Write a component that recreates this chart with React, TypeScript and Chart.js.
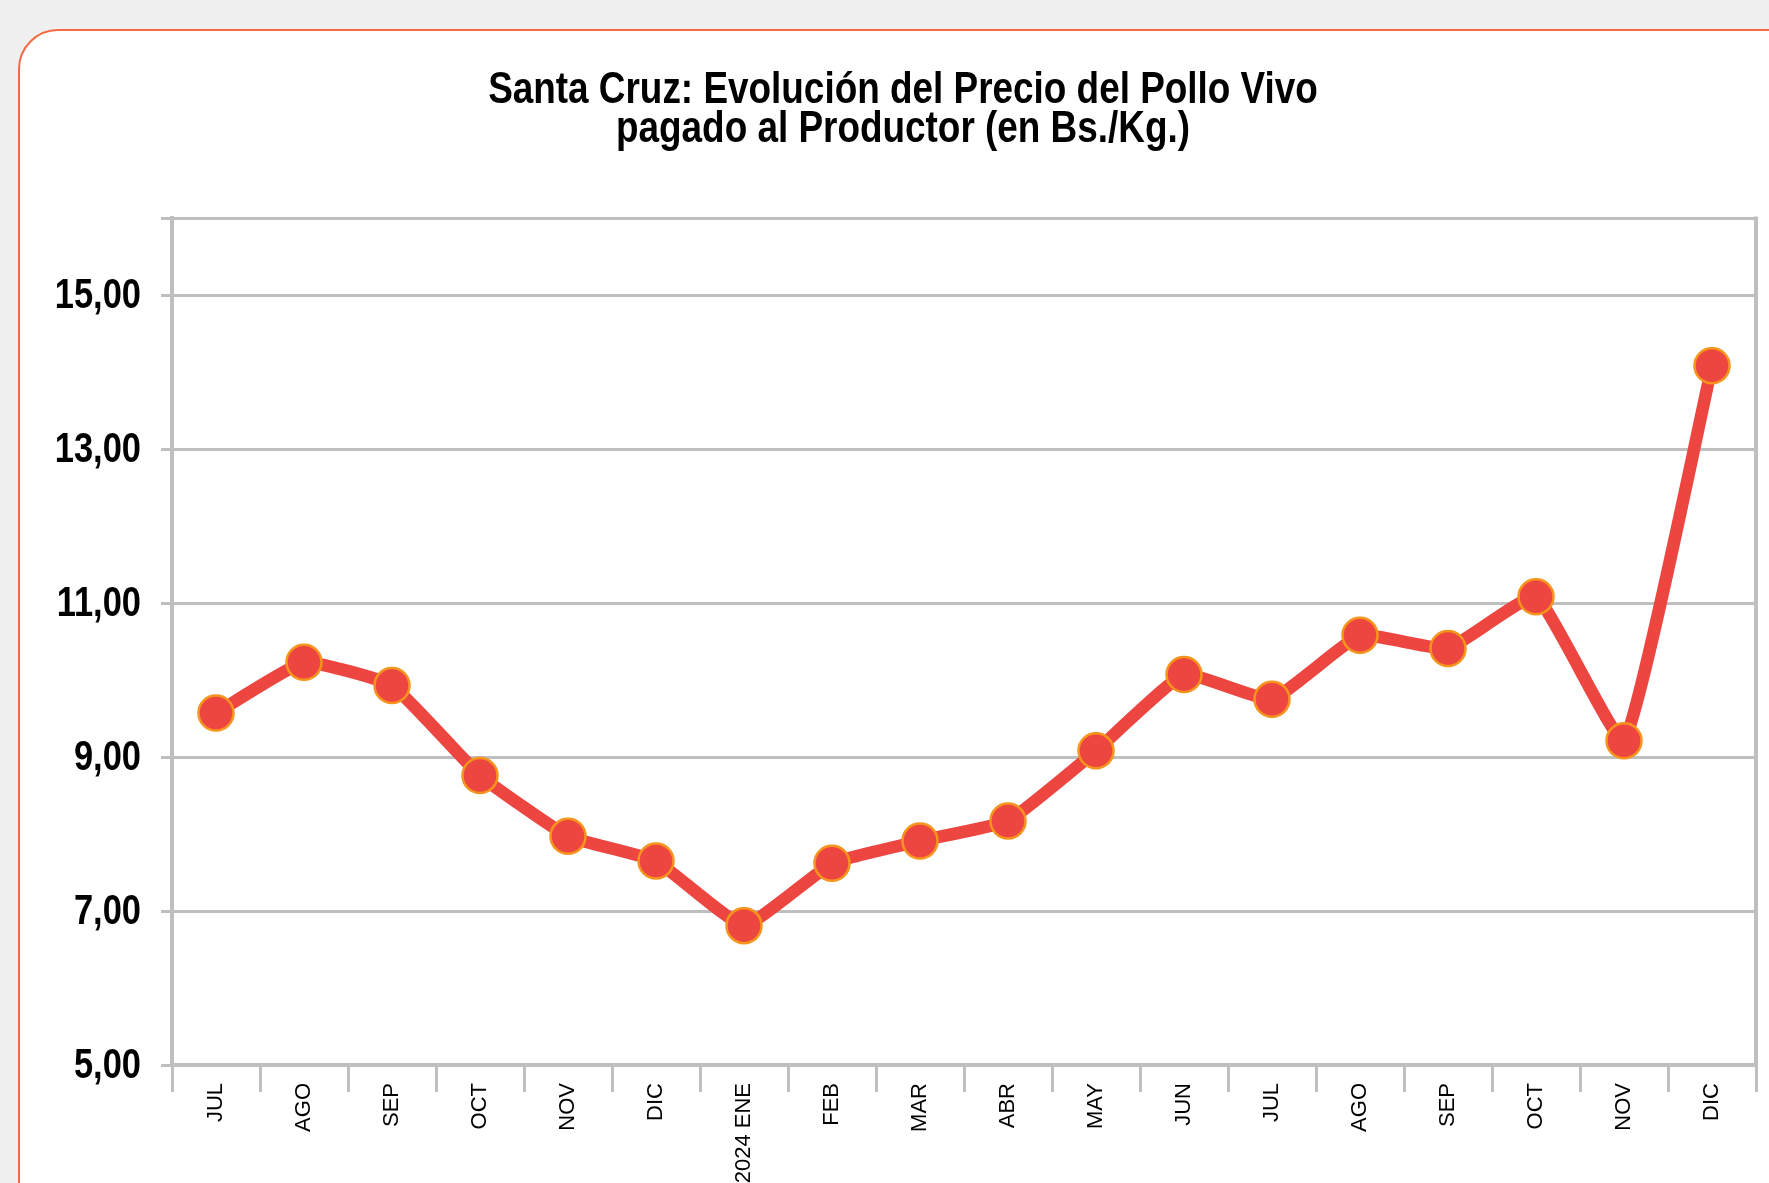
import React, { useEffect, useRef } from 'react';
import { Chart, registerables } from 'chart.js';

Chart.register(...registerables);

const categories = ['JUL', 'AGO', 'SEP', 'OCT', 'NOV', 'DIC', '2024 ENE', 'FEB', 'MAR', 'ABR', 'MAY', 'JUN', 'JUL', 'AGO', 'SEP', 'OCT', 'NOV', 'DIC'];
const prices = [9.57, 10.23, 9.93, 8.76, 7.97, 7.65, 6.81, 7.62, 7.91, 8.17, 9.08, 10.07, 9.75, 10.58, 10.41, 11.08, 9.21, 14.08];
const yMin = 5;
const yMax = 16;
const yTickValues = [5, 7, 9, 11, 13, 15, 16];
const titleLines = ['Santa Cruz: Evolución del Precio del Pollo Vivo', 'pagado al Productor (en Bs./Kg.)'];

const BOLD = "bold 45px 'Liberation Sans', Arial, sans-serif";
const YFONT = "bold 42px 'Liberation Sans', Arial, sans-serif";
const REGULAR = "'Liberation Sans', Arial, sans-serif";
const NARROW_SCALE = 0.82;
const W = 1769;
const H = 1183;
const CANVAS_W = 1776;

const fmt = (v: number) => v.toFixed(2).replace('.', ',');

const narrowText = {
  id: 'narrowText',
  beforeDatasetsDraw(chart: any) {
    const { ctx, chartArea } = chart;
    ctx.save();
    ctx.strokeStyle = '#bfbfbf';
    ctx.lineWidth = 4;
    ctx.beginPath();
    ctx.moveTo(chartArea.right, chartArea.top - 1.5);
    ctx.lineTo(chartArea.right, chartArea.bottom);
    ctx.stroke();
    ctx.restore();
  },
  afterDraw(chart: any) {
    const { ctx } = chart;
    const y = chart.scales.y;
    ctx.save();
    ctx.fillStyle = '#000';
    ctx.font = BOLD;
    ctx.textAlign = 'center';
    ctx.textBaseline = 'alphabetic';
    ctx.save();
    ctx.scale(NARROW_SCALE, 1);
    const cx = 903 / NARROW_SCALE;
    ctx.fillText(titleLines[0], cx, 103);
    ctx.fillText(titleLines[1], cx, 142);
    ctx.restore();
    ctx.font = YFONT;
    ctx.textAlign = 'right';
    ctx.textBaseline = 'middle';
    ctx.save();
    ctx.scale(NARROW_SCALE, 1);
    for (const t of y.ticks) {
      if (t.value === yMax) continue;
      const py = y.getPixelForValue(t.value);
      ctx.fillText(fmt(t.value), 141 / NARROW_SCALE, py + 1);
    }
    ctx.restore();
    ctx.restore();
  },
};

export default function App() {
  const ref = useRef<HTMLCanvasElement>(null);

  useEffect(() => {
    document.body.style.margin = '0';
    const canvas = ref.current!;
    const chart = new Chart(canvas, {
      type: 'line',
      data: {
        labels: categories,
        datasets: [
          {
            data: prices,
            borderColor: '#ed4540',
            borderWidth: 12.5,
            tension: 0.12,
            pointRadius: 17.5,
            pointBackgroundColor: '#ed4540',
            pointBorderColor: '#f7941d',
            pointBorderWidth: 2.5,
            fill: false,
          },
        ],
      },
      options: {
        responsive: false,
        animation: false,
        devicePixelRatio: 1,
        layout: { padding: { left: 52, right: 13, top: 218, bottom: 0 } },
        plugins: {
          legend: { display: false },
          tooltip: { enabled: false },
          title: { display: false },
        },
        scales: {
          x: {
            type: 'category',
            offset: true,
            grid: {
              display: true,
              offset: true,
              drawOnChartArea: false,
              drawTicks: true,
              tickLength: 27,
              color: '#bfbfbf',
              lineWidth: 3,
            },
            border: { display: true, color: '#bfbfbf', width: 4 },
            ticks: {
              minRotation: 90,
              maxRotation: 90,
              autoSkip: false,
              padding: -9,
              color: '#000',
              font: { family: REGULAR, size: 22 },
            },
            afterFit: (s: any) => {
              s.height = H - 1065;
              s.paddingLeft = 0;
              s.paddingRight = 0;
            },
          },
          y: {
            min: yMin,
            max: yMax,
            afterBuildTicks: (s: any) => {
              s.ticks = yTickValues.map((v) => ({ value: v }));
            },
            ticks: {
              display: false,
              callback: (v: any) => (Number(v) === yMax ? '' : fmt(Number(v))),
            },
            grid: { color: '#bfbfbf', lineWidth: 3, tickLength: 11 },
            border: { color: '#bfbfbf', width: 4 },
            afterFit: (s: any) => {
              s.width = 172 - 52;
              s.paddingTop = 0;
              s.paddingBottom = 0;
            },
          },
        },
      },
      plugins: [narrowText],
    });
    return () => chart.destroy();
  }, []);

  return (
    <div style={{ position: 'relative', width: W, height: H, background: '#f0f0f0', overflow: 'hidden' }}>
      <div
        style={{
          position: 'absolute',
          left: 18,
          top: 29,
          width: 1850,
          height: 1250,
          background: '#fff',
          border: '2px solid #f26b43',
          borderRadius: 40,
          boxSizing: 'border-box',
        }}
      />
      <canvas ref={ref} width={CANVAS_W} height={H} style={{ position: 'absolute', left: 0, top: 0, display: 'block' }} />
    </div>
  );
}
